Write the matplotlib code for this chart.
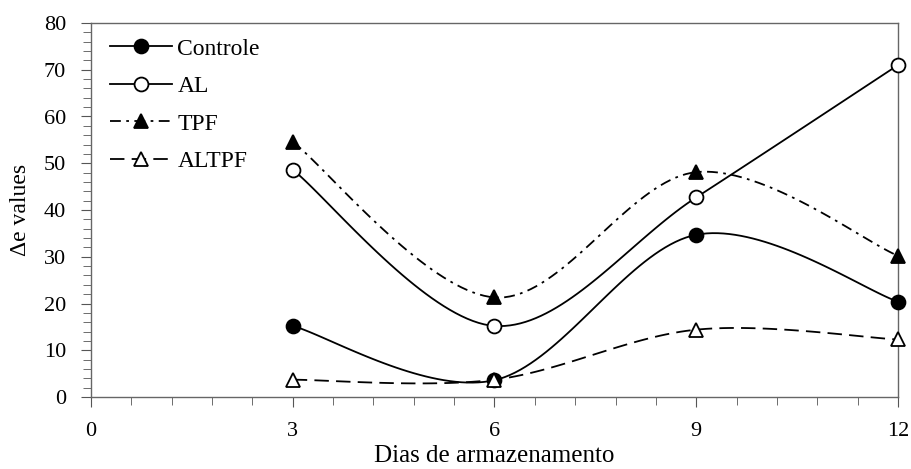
import numpy as np
import matplotlib.pyplot as plt
from matplotlib.ticker import MultipleLocator

dias = [3, 6, 9, 12]
controle = [15.2, 3.6, 34.7, 20.4]
al = [48.6, 15.2, 42.7, 71.0]
tpf = [54.6, 21.3, 48.1, 30.2]
altpf = [3.7, 3.7, 14.4, 12.3]


def smooth(xs, ys, n=40):
    # excel-like smoothed line (catmull-rom bezier)
    p = np.column_stack([xs, ys]).astype(float)
    p = np.vstack([p[0], p, p[-1]])
    out = []
    t = np.linspace(0, 1, n)[:, None]
    for i in range(1, len(p) - 2):
        p0, p1, p2, p3 = p[i - 1], p[i], p[i + 1], p[i + 2]
        c1 = p1 + (p2 - p0) / 6
        c2 = p2 - (p3 - p1) / 6
        seg = ((1 - t) ** 3) * p1 + 3 * ((1 - t) ** 2) * t * c1 + 3 * (1 - t) * t ** 2 * c2 + t ** 3 * p2
        out.append(seg)
    out = np.vstack(out)
    return out[:, 0], out[:, 1]


plt.rcParams['font.family'] = ['Liberation Serif', 'DejaVu Serif']
fig = plt.figure(figsize=(9.12, 4.69), dpi=100)
ax = fig.add_axes([91 / 912, 1 - 397 / 469, 807 / 912, 374 / 469])

series = [
    ('Controle', controle, '-', 'o', 'black', 10),
    ('AL', al, '-', 'o', 'white', 10),
    ('TPF', tpf, (0, (6, 3, 1.5, 3)), '^', 'black', 10),
    ('ALTPF', altpf, (0, (8, 4)), '^', 'white', 10),
]
for name, vals, ls, mk, fc, ms in series:
    sx, sy = smooth(dias, vals)
    ax.plot(sx, sy, color='black', linestyle=ls, linewidth=1.3, zorder=2)
    ax.plot(dias, vals, linestyle='none', marker=mk, markersize=ms,
            markerfacecolor=fc, markeredgecolor='black', markeredgewidth=1.3,
            clip_on=False, zorder=3)
    # legend proxy
    ax.plot([], [], color='black', linestyle=ls, linewidth=1.3, marker=mk,
            markersize=ms, markerfacecolor=fc, markeredgecolor='black',
            markeredgewidth=1.3, label=name)

ax.set_xlim(0, 12)
ax.set_ylim(0, 80)
ax.xaxis.set_major_locator(MultipleLocator(3))
ax.xaxis.set_minor_locator(MultipleLocator(0.6))
ax.yaxis.set_major_locator(MultipleLocator(10))
ax.yaxis.set_minor_locator(MultipleLocator(2))
ax.tick_params(which='both', direction='out', color='#555555', labelsize=16)
ax.tick_params(which='major', length=7)
ax.tick_params(which='minor', length=6)
ax.tick_params(axis='x', pad=11)
ax.tick_params(axis='y', pad=11)
for sp in ax.spines.values():
    sp.set_color('#666666')
    sp.set_linewidth(1.0)

ax.set_xlabel('Dias de armazenamento', fontsize=18, labelpad=3)
ax.set_ylabel('\u0394e values', fontsize=17, labelpad=9)

leg = ax.legend(loc='upper left', frameon=False, fontsize=17, handlelength=2.6,
                handletextpad=0.25, labelspacing=0.68, borderaxespad=0.0,
                bbox_to_anchor=(0.012, 0.985))

fig.savefig('out.png', dpi=100)
